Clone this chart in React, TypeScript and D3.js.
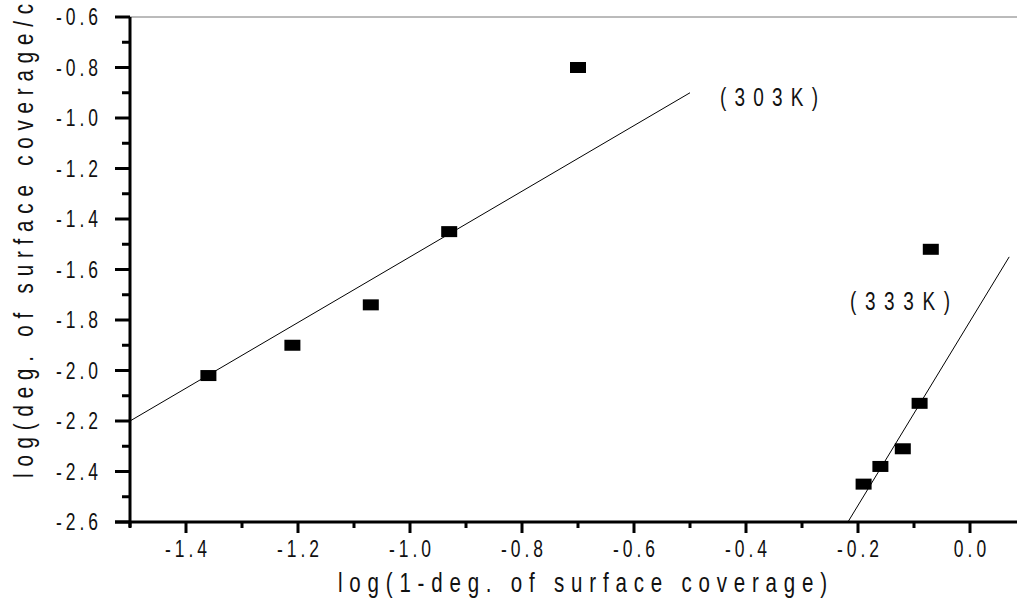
import React from "react";
import * as d3 from "d3";

const xTicks = [-1.4, -1.2, -1.0, -0.8, -0.6, -0.4, -0.2, 0.0];
const xMinor = [-1.5, -1.3, -1.1, -0.9, -0.7, -0.5, -0.3, -0.1];
const yTicks = [-0.6, -0.8, -1.0, -1.2, -1.4, -1.6, -1.8, -2.0, -2.2, -2.4, -2.6];
const yMinor = [-0.7, -0.9, -1.1, -1.3, -1.5, -1.7, -1.9, -2.1, -2.3, -2.5];

const x303 = [-1.36, -1.21, -1.07, -0.93, -0.70];
const y303 = [-2.02, -1.90, -1.74, -1.45, -0.80];
const x333 = [-0.19, -0.16, -0.12, -0.09, -0.07];
const y333 = [-2.45, -2.38, -2.31, -2.13, -1.52];

const fit303 = [[-1.5, -2.2], [-0.5, -0.9]];
const fit333 = [[-0.218, -2.6], [0.07, -1.55]];

const xTitle = "log(1-deg. of surface coverage)";
const yTitle = "log(deg. of surface coverage/c";
const label303 = "(303K)";
const label333 = "(333K)";

const FONT = "'Liberation Sans', Arial, sans-serif";
const SX = 0.76;

function NText(props: {
  x: number; y: number; text: string; size: number; spacing?: number;
  anchor?: "start" | "middle" | "end"; length?: number; rotate?: number;
}) {
  const { x, y, text, size, spacing = 0, anchor = "start", length, rotate = 0 } = props;
  const lsUser = spacing / SX;
  let dx = 0;
  if (length === undefined) {
    if (anchor === "end") dx = lsUser;
    if (anchor === "middle") dx = lsUser / 2;
  }
  return (
    <text
      transform={`translate(${x},${y}) rotate(${rotate}) scale(${SX},1)`}
      x={dx}
      y={0}
      textAnchor={anchor}
      fontFamily={FONT}
      fontSize={size}
      letterSpacing={length === undefined ? lsUser : undefined}
      textLength={length !== undefined ? length / SX : undefined}
      lengthAdjust={length !== undefined ? "spacing" : undefined}
      fill="#111"
    >
      {text}
    </text>
  );
}

export default function App() {
  const W = 1017, H = 599;
  const left = 130, top = 17, bottom = 522;
  const x = d3.scaleLinear().domain([-1.5, 0.0]).range([left, 970]);
  const y = d3.scaleLinear().domain([-2.6, -0.6]).range([bottom, top]);
  const line = d3.line<number[]>().x(d => x(d[0])).y(d => y(d[1]));
  return (
    <svg width={W} height={H} style={{ position: "absolute", left: 0, top: 0, background: "#fff" }}>
      <rect width={W} height={H} fill="#fff" />
      <line x1={left} x2={W} y1={top} y2={top} stroke="#777" strokeWidth={1} />
      <path d={line(fit303) || ""} stroke="#000" strokeWidth={1} fill="none" />
      <path d={line(fit333) || ""} stroke="#000" strokeWidth={1} fill="none" />
      {x303.map((v, i) => (
        <rect key={"a" + i} x={x(v) - 8} y={y(y303[i]) - 5.5} width={16} height={11} fill="#000" />
      ))}
      {x333.map((v, i) => (
        <rect key={"b" + i} x={x(v) - 8} y={y(y333[i]) - 5.5} width={16} height={11} fill="#000" />
      ))}
      <line x1={left} x2={left} y1={top} y2={bottom + 5} stroke="#000" strokeWidth={3} />
      <line x1={left - 15} x2={W} y1={bottom} y2={bottom} stroke="#000" strokeWidth={3} />
      {yTicks.map(t => (
        <g key={"yt" + t}>
          <line x1={left - 15} x2={left} y1={y(t)} y2={y(t)} stroke="#000" strokeWidth={3} />
          <NText x={98} y={y(t) + 8} text={t.toFixed(1)} size={23} spacing={4} anchor="end" />
        </g>
      ))}
      {yMinor.map(t => (
        <line key={"ym" + t} x1={left - 8} x2={left} y1={y(t)} y2={y(t)} stroke="#000" strokeWidth={3} />
      ))}
      {xTicks.map(t => (
        <g key={"xt" + t}>
          <line x1={x(t)} x2={x(t)} y1={bottom} y2={bottom + 11} stroke="#000" strokeWidth={3} />
          <NText x={x(t)} y={557} text={(Math.abs(t) < 1e-9 ? 0 : t).toFixed(1)} size={23} spacing={4} anchor="middle" />
        </g>
      ))}
      {xMinor.map(t => (
        <line key={"xm" + t} x1={x(t)} x2={x(t)} y1={bottom} y2={bottom + 6} stroke="#000" strokeWidth={3} />
      ))}
      <NText x={720} y={106} text={label303} size={25} length={98} />
      <NText x={850} y={310} text={label333} size={25} length={100} />
      <NText x={338} y={592} text={xTitle} size={27} length={489} />
      <NText x={33} y={478} text={yTitle} size={27} length={474} rotate={-90} />
    </svg>
  );
}
